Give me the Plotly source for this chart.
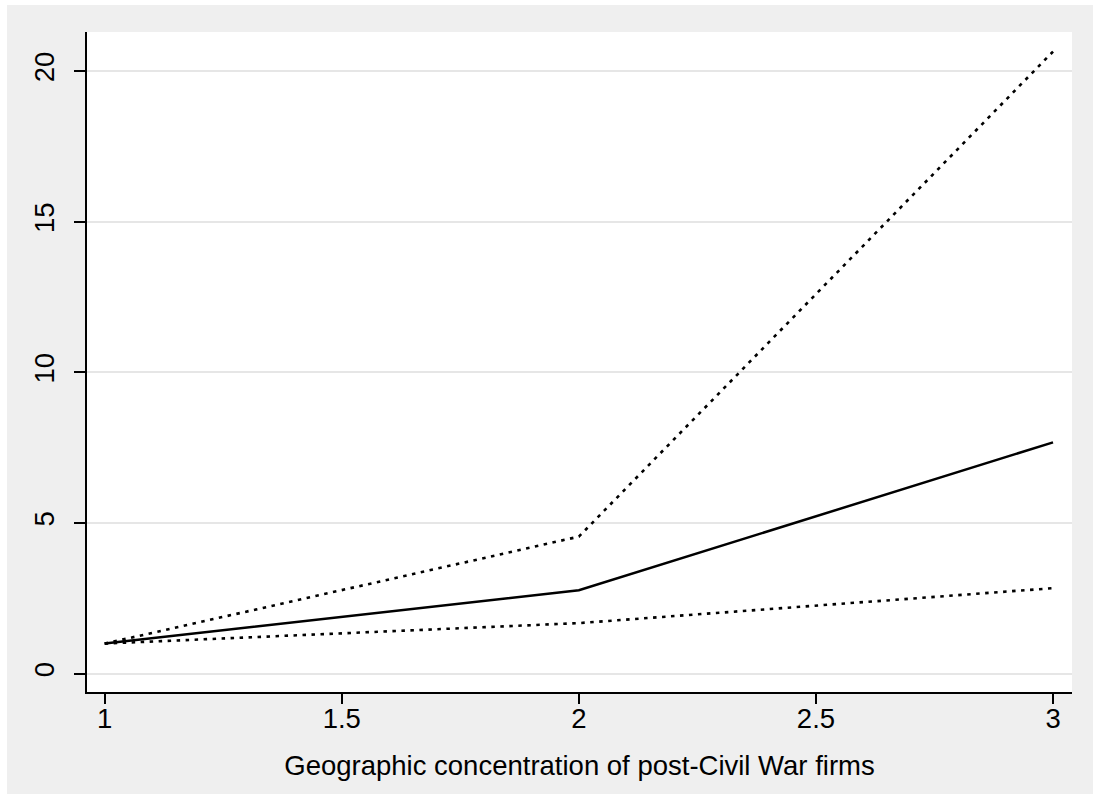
import plotly.graph_objects as go

# Data
x_vals = [1, 2, 3]
point_est = [1.0, 2.77, 7.68]
upper_ci = [1.0, 4.55, 20.65]
lower_ci = [1.0, 1.68, 2.84]

x_ticks = [1, 1.5, 2, 2.5, 3]
x_ticklabels = ["1", "1.5", "2", "2.5", "3"]
y_ticks = [0, 5, 10, 15, 20]
y_ticklabels = ["0", "5", "10", "15", "20"]
x_title = "Geographic concentration of post-Civil War firms"

OFF_X, OFF_Y = 7, 5          # page offset of the figure (white strips)
W, H = 1093 - OFF_X, 794 - OFF_Y
L, R, T, B = 87 - OFF_X, 21, 32 - OFF_Y, 102

FONT = "Liberation Sans, Arial, Helvetica, sans-serif"
FS = 27.5

fig = go.Figure()
fig.add_trace(go.Scatter(x=x_vals, y=upper_ci, mode="lines",
                         line=dict(color="black", width=2.6, dash="3.5px,5.5px"),
                         showlegend=False, hoverinfo="skip"))
fig.add_trace(go.Scatter(x=x_vals, y=point_est, mode="lines",
                         line=dict(color="black", width=2.5),
                         showlegend=False, hoverinfo="skip"))
fig.add_trace(go.Scatter(x=x_vals, y=lower_ci, mode="lines",
                         line=dict(color="black", width=2.6, dash="3.5px,5.5px"),
                         showlegend=False, hoverinfo="skip"))

fig.update_layout(
    width=W, height=H,
    margin=dict(l=L, r=R, t=T, b=B),
    paper_bgcolor="#efefef",
    plot_bgcolor="white",
    font=dict(family=FONT, size=FS, color="black"),
    xaxis=dict(
        range=[0.9627, 3.040],
        tickvals=x_ticks, ticktext=x_ticklabels,
        showgrid=False, zeroline=False,
        showline=True, linecolor="black", linewidth=1.5,
        ticks="outside", ticklen=10, tickwidth=1.5, tickcolor="black",
        ticklabelstandoff=-9,
        tickfont=dict(family=FONT, size=FS),
        title=dict(text=x_title, font=dict(family=FONT, size=FS), standoff=23),
    ),
    yaxis=dict(
        range=[-0.607, 21.3],
        tickvals=y_ticks, ticktext=y_ticklabels,
        tickangle=-90,
        showgrid=True, gridcolor="#e6e6e6", gridwidth=2,
        zeroline=False,
        showline=True, linecolor="black", linewidth=1.5,
        ticks="outside", ticklen=11, tickwidth=1.5, tickcolor="black",
        ticklabelstandoff=9,
        tickfont=dict(family=FONT, size=FS),
    ),
)

post = ("document.body.style.margin='%dpx 0 0 %dpx';"
        "document.body.style.overflow='hidden';"
        "document.documentElement.style.overflow='hidden';") % (OFF_Y, OFF_X)
fig.write_html("out.html", post_script=post)
